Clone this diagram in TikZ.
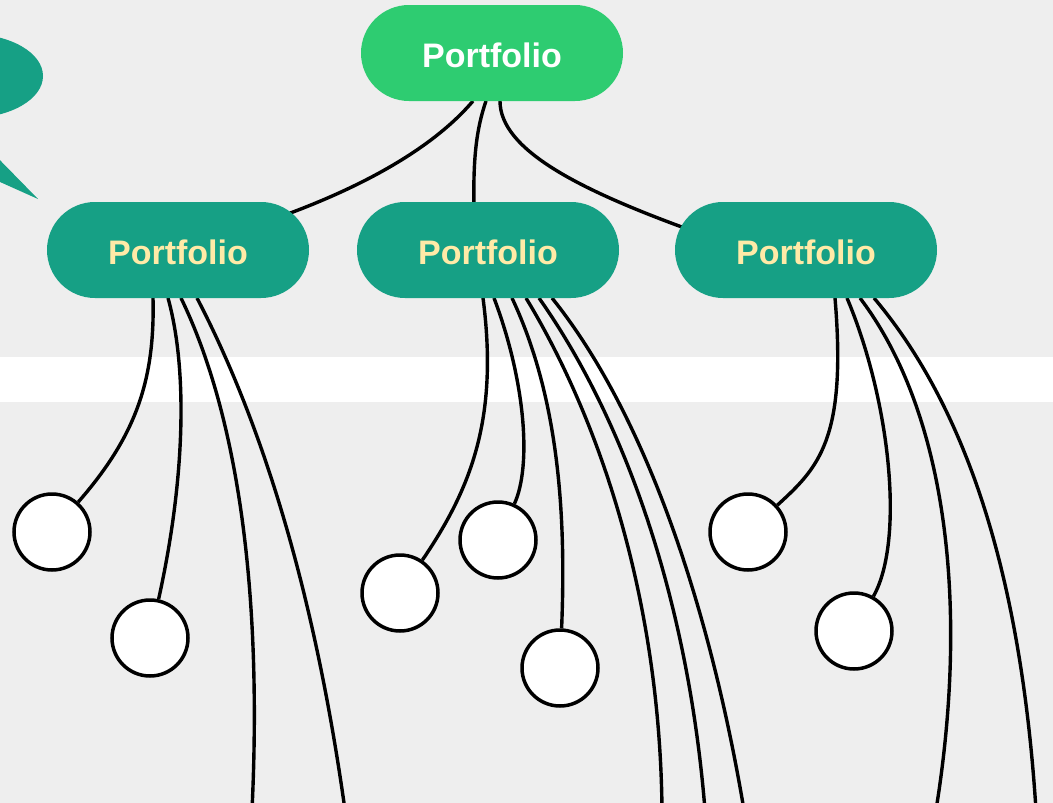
\documentclass[tikz,border=0pt]{standalone}
\usepackage{fontspec}
\setmainfont{Liberation Sans}
\usetikzlibrary{calc}
\definecolor{bgc}{HTML}{EEEEEE}
\definecolor{rootc}{HTML}{2ECC71}
\definecolor{tealc}{HTML}{16A085}
\definecolor{texty}{HTML}{FFEAA7}
\pgfdeclarelayer{bglayer}
\pgfdeclarelayer{edgelayer}
\pgfsetlayers{bglayer,edgelayer,main}
\begin{document}
\begin{tikzpicture}[x=1pt,y=-1pt,
  pill/.style={rectangle, rounded corners=48pt, minimum width=262pt, minimum height=96pt, inner sep=0pt, text height=28pt, text depth=0pt, font=\fontsize{34}{40}\selectfont\bfseries},
  rootnode/.style={pill, fill=rootc, text=white},
  kid/.style={pill, fill=tealc, text=texty},
  leaf/.style={circle, draw=black, line width=3.5pt, fill=white, minimum size=76pt, inner sep=0pt},
  link/.style={draw=black, line width=3.4pt}]
\useasboundingbox (0,0) rectangle (1053,803);
\begin{pgfonlayer}{bglayer}
\fill[bgc] (0,0) rectangle (1053,803);
\fill[white] (0,357) rectangle (1053,402);
\fill[tealc] (-30,76) ellipse [x radius=73pt, y radius=42pt];
\fill[tealc] (-10,150) -- (38,199) -- (-10,177.5) -- cycle;
\end{pgfonlayer}

\node[rootnode] (root) at (492,53) {Portfolio};
\node[kid] (k1) at (178,250) {Portfolio};
\node[kid] (k2) at (488,250) {Portfolio};
\node[kid] (k3) at (806,250) {Portfolio};

\node[leaf] (n1) at (52,532) {};
\node[leaf] (n2) at (150,638) {};
\node[leaf] (n3) at (400,593) {};
\node[leaf] (n4) at (498,540) {};
\node[leaf] (n5) at (560,668) {};
\node[leaf] (n6) at (748,532) {};
\node[leaf] (n7) at (854,631) {};

\coordinate (f1) at (252,810);
\coordinate (f2) at (345,810);
\coordinate (f3) at (662,810);
\coordinate (f4) at (705,810);
\coordinate (f5) at (744,810);
\coordinate (f6) at (936,810);
\coordinate (f7) at (1036,810);

\begin{pgfonlayer}{edgelayer}
% root to children
\draw[link] ($(root)+(-19,48)$) .. controls (440,140) and (380,180) .. ($(k1)+(107,-35)$);
\draw[link] ($(root)+(-6,48)$) .. controls (476,130) and (473,160) .. ($(k2)+(-14,-40)$);
\draw[link] ($(root)+(8,48)$) .. controls (500,150) and (580,190) .. ($(k3)+(-116,-20)$);
% child 1
\draw[link] ($(k1)+(-25,48)$) .. controls (155,380) and (136,436) .. (n1);
\draw[link] ($(k1)+(-10,48)$) .. controls (188,370) and (185,480) .. (n2);
\draw[link] ($(k1)+(3,48)$) .. controls (240,420) and (262,600) .. (f1);
\draw[link] ($(k1)+(19,48)$) .. controls (250,400) and (310,560) .. (f2);
% child 2
\draw[link] ($(k2)+(-5,48)$) .. controls (499,420) and (470,490) .. (n3);
\draw[link] ($(k2)+(6,48)$) .. controls (525,380) and (532,465) .. (n4);
\draw[link] ($(k2)+(24,48)$) .. controls (560,400) and (566,520) .. (n5);
\draw[link] ($(k2)+(38,48)$) .. controls (600,420) and (660,600) .. (f3);
\draw[link] ($(k2)+(51,48)$) .. controls (625,420) and (688,600) .. (f4);
\draw[link] ($(k2)+(64,48)$) .. controls (650,420) and (712,620) .. (f5);
% child 3
\draw[link] ($(k3)+(29,48)$) .. controls (847,440) and (818,468) .. (n6);
\draw[link] ($(k3)+(41,48)$) .. controls (890,400) and (905,540) .. (n7);
\draw[link] ($(k3)+(54,48)$) .. controls (945,410) and (970,600) .. (f6);
\draw[link] ($(k3)+(68,48)$) .. controls (960,400) and (1020,560) .. (f7);
\end{pgfonlayer}
\end{tikzpicture}
\end{document}
